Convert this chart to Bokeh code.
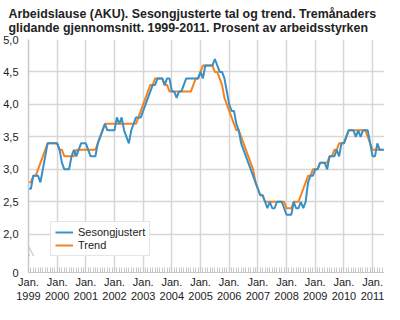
from bokeh.plotting import figure
from bokeh.embed import file_html
from bokeh.resources import INLINE
from bokeh.models import FixedTicker, Range1d, Legend, LegendItem, Arrow

# ---- data (monthly, Jan 1999 onwards) ----
start_year = 1999
sesongjustert = [
    2.7, 2.7, 2.9, 2.9, 2.9, 2.8, 3.0, 3.2, 3.4, 3.4,
    3.4, 3.4, 3.4, 3.3, 3.1, 3.0, 3.0, 3.0, 3.2, 3.3,
    3.2, 3.3, 3.4, 3.4, 3.4, 3.3, 3.2, 3.2, 3.2, 3.4,
    3.5, 3.6, 3.7, 3.6, 3.6, 3.6, 3.6, 3.8, 3.7, 3.8,
    3.6, 3.5, 3.4, 3.6, 3.7, 3.8, 3.8, 3.8, 3.9, 4.0,
    4.1, 4.2, 4.3, 4.3, 4.4, 4.4, 4.4, 4.3, 4.4, 4.4,
    4.2, 4.2, 4.1, 4.2, 4.2, 4.3, 4.4, 4.4, 4.4, 4.4,
    4.4, 4.4, 4.5, 4.4, 4.6, 4.6, 4.6, 4.6, 4.7, 4.6,
    4.5, 4.5, 4.4, 4.2, 4.0, 3.9, 3.9, 3.7, 3.6, 3.4,
    3.3, 3.2, 3.1, 3.0, 2.9, 2.8, 2.7, 2.6, 2.6, 2.5,
    2.4, 2.5, 2.4, 2.4, 2.5, 2.5, 2.5, 2.4, 2.3, 2.3,
    2.3, 2.5, 2.4, 2.4, 2.5, 2.4, 2.5, 2.8, 2.9, 2.9,
    3.0, 3.0, 3.1, 3.1, 3.1, 3.0, 3.2, 3.2, 3.2, 3.3,
    3.2, 3.4, 3.4, 3.5, 3.6, 3.6, 3.6, 3.5, 3.6, 3.5,
    3.6, 3.6, 3.6, 3.4, 3.2, 3.2, 3.4, 3.3, 3.3, 3.3,
]
trend = [
    2.8, 2.8, 2.9, 2.9, 3.0, 3.1, 3.2, 3.3, 3.4, 3.4,
    3.4, 3.4, 3.4, 3.3, 3.3, 3.2, 3.2, 3.2, 3.2, 3.2,
    3.3, 3.3, 3.3, 3.3, 3.3, 3.3, 3.3, 3.3, 3.3, 3.4,
    3.5, 3.6, 3.7, 3.7, 3.7, 3.7, 3.7, 3.7, 3.7, 3.7,
    3.7, 3.7, 3.7, 3.7, 3.7, 3.7, 3.8, 3.9, 4.0, 4.1,
    4.2, 4.3, 4.3, 4.4, 4.4, 4.4, 4.4, 4.3, 4.3, 4.2,
    4.2, 4.2, 4.2, 4.2, 4.2, 4.2, 4.2, 4.2, 4.2, 4.3,
    4.4, 4.4, 4.5, 4.6, 4.6, 4.6, 4.6, 4.6, 4.5, 4.5,
    4.4, 4.3, 4.1, 4.0, 3.9, 3.8, 3.7, 3.6, 3.6, 3.5,
    3.4, 3.3, 3.2, 3.1, 3.0, 2.8, 2.7, 2.6, 2.6, 2.5,
    2.5, 2.5, 2.5, 2.5, 2.5, 2.5, 2.5, 2.5, 2.4, 2.4,
    2.4, 2.5, 2.5, 2.5, 2.6, 2.7, 2.8, 2.9, 2.9, 3.0,
    3.0, 3.0, 3.1, 3.1, 3.1, 3.1, 3.2, 3.2, 3.3, 3.3,
    3.4, 3.4, 3.4, 3.5, 3.6, 3.6, 3.6, 3.6, 3.6, 3.6,
    3.6, 3.6, 3.5, 3.4, 3.3, 3.3, 3.3, 3.3, 3.3,
]
years = list(range(1999, 2012))
x_tick_labels = ["Jan.\n%d" % y for y in years]
y_ticks = [2.0, 2.5, 3.0, 3.5, 4.0, 4.5, 5.0]
y_tick_labels = ["2,0", "2,5", "3,0", "3,5", "4,0", "4,5", "5,0"]
y_bottom = 1.41          # axis is broken: bottom of axis is labelled "0"
y_bottom_label = "0"

series_names = ["Sesongjustert", "Trend"]
blue = "#3a8fc5"
orange = "#f5821f"

x_s = list(range(len(sesongjustert)))
x_t = list(range(len(trend)))
x_major = [(y - start_year) * 12 for y in years]
x_minor = list(range(0, len(sesongjustert)))

font = "Liberation Sans"

p = figure(width=384, height=304, output_backend="svg", toolbar_location=None,
           x_range=Range1d(0, len(sesongjustert) - 1), y_range=Range1d(y_bottom, 5.0),
           min_border_left=4, min_border_right=0, min_border_bottom=2, min_border_top=0)

p.title.text = ("Arbeidslause (AKU). Sesongjusterte tal og trend. Tremånaders\n"
                "glidande gjennomsnitt. 1999-2011. Prosent av arbeidsstyrken")
p.title.text_font = font
p.title.text_font_size = "12.4px"
p.title.text_font_style = "bold"
p.title.text_color = "#222222"
p.title.align = "left"
p.title.offset = -20
p.title.standoff = 9

p.outline_line_color = None
p.background_fill_color = "white"

# axes
p.xaxis.ticker = FixedTicker(ticks=x_major, minor_ticks=x_minor)
p.xaxis.major_label_overrides = {t: l for t, l in zip(x_major, x_tick_labels)}
p.xaxis.major_label_text_font = font
p.xaxis.major_label_text_font_size = "11px"
p.xaxis.major_label_text_color = "#222222"
p.xaxis.axis_line_color = "#c8c8c8"
p.xaxis.major_tick_line_color = "#c8c8c8"
p.xaxis.minor_tick_line_color = "#c8c8c8"
p.xaxis.major_tick_in = 5
p.xaxis.major_tick_out = 0
p.xaxis.minor_tick_in = 5
p.xaxis.minor_tick_out = 0
p.xaxis.major_label_standoff = 3

yt = [y_bottom] + y_ticks
yl = [y_bottom_label] + y_tick_labels
p.yaxis.ticker = FixedTicker(ticks=yt)
p.yaxis.major_label_overrides = {t: l for t, l in zip(yt, yl)}
p.yaxis.major_label_text_font = font
p.yaxis.major_label_text_font_size = "11px"
p.yaxis.major_label_text_color = "#222222"
p.yaxis.axis_line_color = "#c8c8c8"
p.yaxis.axis_line_width = 1.5
p.yaxis.major_tick_line_color = None
p.yaxis.minor_tick_line_color = None
p.yaxis.major_label_standoff = 4

p.xgrid.ticker = FixedTicker(ticks=x_major)
p.ygrid.ticker = FixedTicker(ticks=y_ticks)
p.xgrid.grid_line_color = "#d7d7d7"
p.ygrid.grid_line_color = "#d7d7d7"
p.xgrid.grid_line_width = 1.5
p.ygrid.grid_line_width = 1.5

# axis break marks
for dx in (-0.6, 1.0):
    p.add_layout(Arrow(end=None, x_start=-2.0 + dx, y_start=1.88, x_end=1.2 + dx,
                       y_end=1.66, line_color="#c8c8c8", line_width=1.2))

r_t = p.line(x_t, trend, line_color=orange, line_width=2)
r_s = p.line(x_s, sesongjustert, line_color=blue, line_width=2)

legend = Legend(items=[LegendItem(label=series_names[0], renderers=[r_s]),
                       LegendItem(label=series_names[1], renderers=[r_t])],
                location=(22, 16), orientation="vertical")
legend.label_text_font = font
legend.label_text_font_size = "11px"
legend.label_text_color = "#222222"
legend.border_line_color = "#cccccc"
legend.border_line_width = 1.5
legend.glyph_width = 18
legend.glyph_height = 12
legend.label_height = 12
legend.spacing = 1
legend.padding = 4
legend.margin = 0
legend.label_standoff = 5
p.add_layout(legend, "center")

open("out.html", "w").write(file_html(p, INLINE))
